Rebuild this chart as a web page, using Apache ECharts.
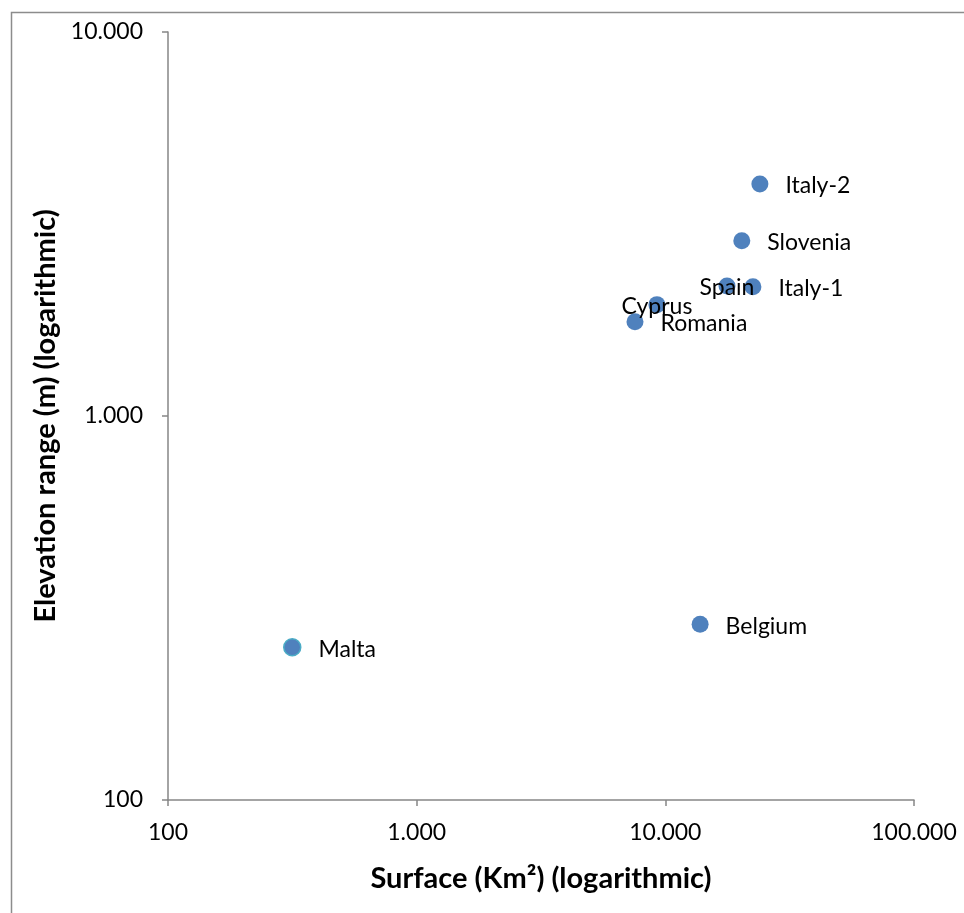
<!DOCTYPE html>
<html>
<head>
<meta charset="utf-8">
<script src="https://cdn.jsdelivr.net/npm/echarts@6/dist/echarts.min.js"></script>
<style>html,body{margin:0;padding:0;background:#fff}#c{width:964px;height:913px}</style>
</head>
<body>
<div id="c"></div>
<script>
const countries = ['Italy-2','Slovenia','Spain','Italy-1','Cyprus','Romania','Belgium','Malta'];
const surfaceKm2 = [24000, 20300, 17700, 22500, 9250, 7550, 13800, 316];
const elevationM = [4020, 2860, 2180, 2170, 1950, 1760, 287, 250];
const xTicks = [100, 1000, 10000, 100000];
const yTicks = [100, 1000, 10000];

const fmt = v => String(Math.round(v)).replace(/\B(?=(\d{3})+(?!\d))/g, '.');
const centered = new Set(['Spain', 'Cyprus']);
const FONT = 'Lato';

const data = countries.map((n, i) => {
  const item = { name: n, value: [surfaceKm2[i], elevationM[i]] };
  if (centered.has(n)) item.label = { position: 'inside', offset: [0, 2] };
  if (n === 'Malta') item.itemStyle = { borderColor: '#4BACC6', borderWidth: 1.5 };
  return item;
});

const chart = echarts.init(document.getElementById('c'), null, { renderer: 'canvas' });
chart.setOption({
  animation: false,
  backgroundColor: '#fff',
  grid: { left: 168, top: 32, right: 50, bottom: 113, containLabel: false },
  graphic: [{
    type: 'rect', left: 9, top: 10, silent: true,
    shape: { width: 1000, height: 1000 },
    style: { fill: 'none', stroke: '#8c8c8c', lineWidth: 1.5 }
  }],
  xAxis: {
    type: 'log', logBase: 10, min: xTicks[0], max: xTicks[xTicks.length - 1],
    name: 'Surface (Km²) (logarithmic)', nameLocation: 'middle', nameGap: 64,
    nameTextStyle: { fontFamily: FONT, fontSize: 29, fontWeight: 'bold', color: '#000' },
    axisLine: { lineStyle: { color: '#868686', width: 1.5 } },
    axisTick: { show: true, length: 6, inside: false, lineStyle: { color: '#868686', width: 1.5 } },
    axisLabel: { fontFamily: FONT, fontSize: 23, color: '#000', margin: 21, formatter: fmt },
    splitLine: { show: false }, minorTick: { show: false }
  },
  yAxis: {
    type: 'log', logBase: 10, min: yTicks[0], max: yTicks[yTicks.length - 1],
    name: 'Elevation range (m) (logarithmic)', nameLocation: 'middle', nameGap: 108,
    nameTextStyle: { fontFamily: FONT, fontSize: 29, fontWeight: 'bold', color: '#000' },
    axisLine: { show: true, lineStyle: { color: '#868686', width: 1.5 } },
    axisTick: { show: true, length: 6, inside: false, lineStyle: { color: '#868686', width: 1.5 } },
    axisLabel: { fontFamily: FONT, fontSize: 23, color: '#000', margin: 25, formatter: fmt },
    splitLine: { show: false }
  },
  series: [{
    type: 'scatter',
    symbol: 'circle',
    symbolSize: 17,
    itemStyle: { color: '#4F81BD', opacity: 1 },
    label: {
      show: true, position: 'right', distance: 17, offset: [0, 2], formatter: '{b}',
      fontFamily: FONT, fontSize: 23, color: '#000'
    },
    data: data
  }]
});
</script>
</body>
</html>
